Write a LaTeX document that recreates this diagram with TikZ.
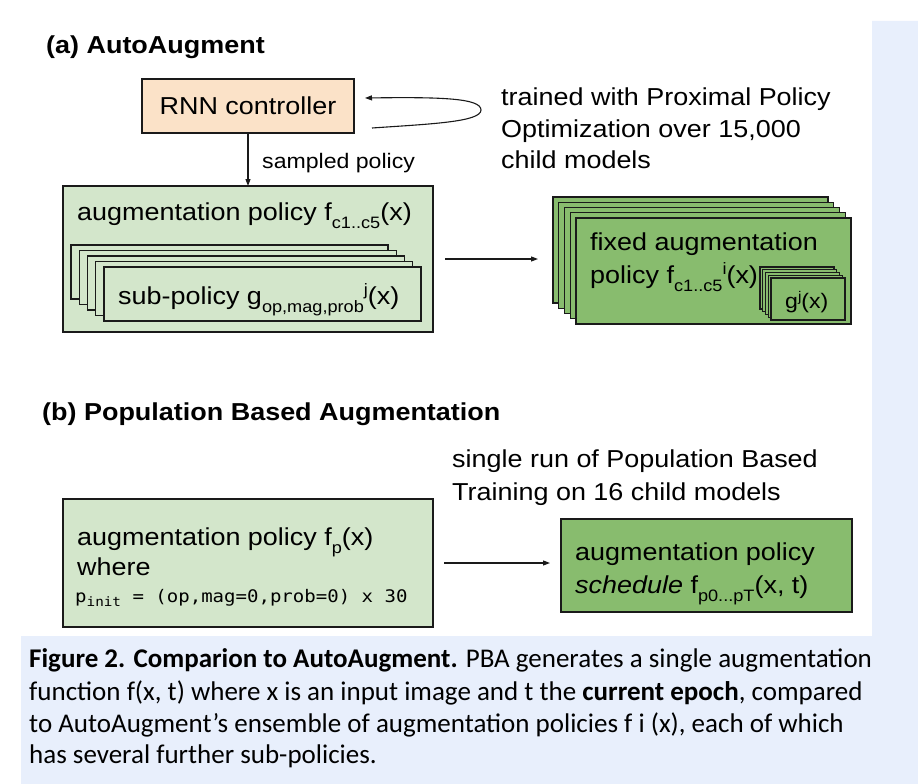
\documentclass[tikz,border=0pt]{standalone}
\usepackage{fontspec}
\setmainfont[FakeStretch=1.1]{Liberation Sans}
\newfontfamily\capfont{Carlito}
\newfontfamily\codefont[FakeStretch=1.1]{DejaVu Sans Mono}
\usetikzlibrary{arrows.meta}
\definecolor{peach}{HTML}{FBE2C8}
\definecolor{lgreen}{HTML}{D3E6CB}
\definecolor{mgreen}{HTML}{88BC6E}
\definecolor{capblue}{HTML}{E8EFFC}
\definecolor{edge}{HTML}{1A1A1A}
\newcommand\subA[1]{\raisebox{-8.5pt}{\fontsize{16.5}{16.5}\selectfont #1}}
\newcommand\supA[1]{\raisebox{8.5pt}{\fontsize{16.5}{16.5}\selectfont #1}}
\newcommand\supG[1]{\raisebox{7pt}{\fontsize{14}{14}\selectfont #1}}
\newcommand\subC[1]{\raisebox{-4.5pt}{\fontsize{13}{13}\selectfont #1}}
\begin{document}
\begin{tikzpicture}[x=1pt,y=-1pt,
  boxstyle/.style={draw=edge, line width=1.4pt, inner sep=0pt, outer sep=0pt},
  conn/.style={draw=edge, line width=1.1pt, -{Triangle[length=7pt,width=5pt]}},
  txt/.style={inner sep=0pt, anchor=base west, font=\fontsize{24.5}{24.5}\selectfont},
  small/.style={inner sep=0pt, anchor=base west, font=\fontsize{21}{21}\selectfont},
  captxt/.style={inner sep=0pt, anchor=base west, font=\capfont\fontsize{27}{32}\selectfont}]
\useasboundingbox (0,0) rectangle (918,784);
% background
\fill[white] (0,0) rectangle (918,784);
\fill[capblue] (872,21) -- (918,21) -- (918,784) -- (21,784) -- (21,636) -- (872,636) -- cycle;
% (a)
\node[txt, font=\bfseries\fontsize{24.5}{24.5}\selectfont] (titleA) at (46,53) {(a) AutoAugment};
\node[boxstyle, fill=peach, minimum width=212pt, minimum height=54pt,
      font=\fontsize{24.5}{24.5}\selectfont] (rnn) at (248,106) {RNN controller};
\node[boxstyle, fill=lgreen, minimum width=370pt, minimum height=146pt] (augA) at (248,259) {};
\node[txt] (augAtxt) at (77,220) {augmentation policy f\subA{c1..c5}(x)};
\foreach \i in {0,...,4}{
  \node[boxstyle, fill=lgreen, minimum width=317pt, minimum height=54pt] (sub\i) at (229.5+8.25*\i,272+5.5*\i) {};
}
\node[txt] (subtxt) at (118,304) {sub-policy g\subA{op,mag,prob}\supA{j}(x)};
\draw[conn] (rnn.south) -- (augA.north);
\node[small] (samp) at (262,168) {sampled policy};
\coordinate (lpA) at (372,128);
\coordinate (lpB) at (365,98);
\draw[conn] (lpA) .. controls (430,124) and (481,122) .. (481,110) .. controls (481,98) and (440,97) .. (lpB);
\node[txt] (tr1) at (501,105) {trained with Proximal Policy};
\node[txt] (tr2) at (501,137) {Optimization over 15,000};
\node[txt] (tr3) at (501,168) {child models};
\foreach \i in {0,...,4}{
  \node[boxstyle, fill=mgreen, minimum width=275pt, minimum height=106pt] (fix\i) at (690.5+5.75*\i,250+5.25*\i) {};
}
\node[txt] (fixtxt1) at (590,250) {fixed augmentation};
\node[txt] (fixtxt2) at (590,283) {policy f\subA{c1..c5}\supA{i}(x)};
\foreach \i in {0,...,4}{
  \node[boxstyle, line width=1.2pt, fill=mgreen, minimum width=74pt, minimum height=42pt] (g\i) at (797+2.75*\i,288+2.75*\i) {};
}
\node[small] (gtxt) at (785,308) {g\supG{j}(x)};
\draw[conn, shorten <=12pt, shorten >=15pt] (augA.east) -- (augA.east -| fix0.west);
% (b)
\node[txt, font=\bfseries\fontsize{24.5}{24.5}\selectfont] (titleB) at (42,420) {(b) Population Based Augmentation};
\node[txt] (sr1) at (452,467) {single run of Population Based};
\node[txt] (sr2) at (452,500) {Training on 16 child models};
\node[boxstyle, fill=lgreen, minimum width=370pt, minimum height=128pt] (augB) at (248,563) {};
\node[txt] (augBtxt1) at (77,545) {augmentation policy f\subA{p}(x)};
\node[txt] (augBtxt2) at (77,575) {where};
\node[inner sep=0pt, anchor=base west, font=\codefont\fontsize{17.3}{17.3}\selectfont] (code) at (75,602) {p\subC{init} = (op,mag=0,prob=0) x 30};
\node[boxstyle, fill=mgreen, minimum width=291pt, minimum height=93pt] (schB) at (706.5,565.5) {};
\node[txt] (schtxt1) at (575,560) {augmentation policy};
\node[txt] (schtxt2) at (575,593) {\textit{schedule} f\subA{p0...pT}(x, t)};
\draw[conn, shorten <=11pt, shorten >=11pt] (augB.east) -- (augB.east -| schB.west);
% caption
\node[captxt] (cap1) at (29,667) {\textbf{Figure 2. Comparion to AutoAugment.} PBA generates a single augmentation};
\node[captxt] (cap2) at (29,700) {function f(x, t) where x is an input image and t the \textbf{current epoch}, compared};
\node[captxt] (cap3) at (29,732) {to AutoAugment’s ensemble of augmentation policies f i (x), each of which};
\node[captxt] (cap4) at (29,763) {has several further sub-policies.};
\end{tikzpicture}
\end{document}
